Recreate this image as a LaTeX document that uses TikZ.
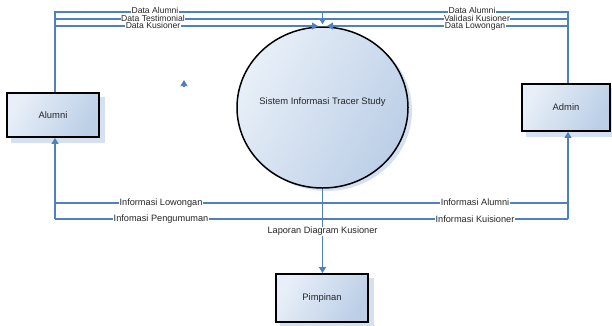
\documentclass[tikz,border=0pt]{standalone}
\usepackage{fontspec}
\setmainfont{Liberation Sans}
\usetikzlibrary{shapes.geometric,arrows.meta,backgrounds}
\definecolor{flowc}{HTML}{4F81BD}
\definecolor{lightc}{HTML}{E8EFF8}
\definecolor{darkc}{HTML}{BCCFE7}
\definecolor{shadc}{HTML}{D5E1F1}
\definecolor{txtc}{HTML}{262626}
\tikzset{
  entity/.style={rectangle, draw=black, line width=1.8pt, left color=lightc, right color=darkc, shading angle=60,
    font=\fontsize{9.4}{11}\selectfont, text=txtc},
  process/.style={ellipse, draw=black, line width=1.5pt, left color=lightc, right color=darkc, shading angle=60,
    inner sep=0pt},
  shadowfill/.style={fill=shadc},
  flow/.style={draw=flowc, line width=1.1pt},
  flowarr/.style={flow, -{Triangle[length=6pt,width=7pt]}},
  lbl/.style={fill=white, inner sep=0.4pt, text height=6.6pt, text depth=1.6pt, font=\fontsize{9.2}{10}\selectfont, text=txtc},
  toplbl/.style={lbl, font=\fontsize{8.6}{10}\selectfont, text height=6.2pt, text depth=1.5pt},
}
\begin{document}
\begin{tikzpicture}[x=1pt,y=-1pt]
\useasboundingbox (0,0) rectangle (612,325);
% nodes
\node[process, minimum width=171pt, minimum height=161pt] (sys) at (322.5,107.5) {};
\node[font=\fontsize{9.4}{11}\selectfont, text=txtc] (systxt) at (322.5,102) {Sistem Informasi Tracer Study};
\node[entity, minimum width=92pt, minimum height=44pt] (alumni) at (53,115) {Alumni};
\node[entity, minimum width=88pt, minimum height=47pt] (admin) at (566,107.5) {Admin};
\node[entity, minimum width=92pt, minimum height=48pt] (pimpinan) at (322,298) {Pimpinan};
% shadows
\begin{scope}[on background layer]
\fill[shadowfill] ([shift={(5,5)}]alumni.south west) rectangle ([shift={(5,5)}]alumni.north east);
\fill[shadowfill] ([shift={(5,5)}]admin.south west) rectangle ([shift={(5,5)}]admin.north east);
\fill[shadowfill] ([shift={(5,5)}]pimpinan.south west) rectangle ([shift={(5,5)}]pimpinan.north east);
\fill[shadowfill] ([shift={(4,3)}]sys.center) ellipse [x radius=85.5, y radius=80.5];
\end{scope}
% guide coordinates
\coordinate (L) at (55,0);
\coordinate (R) at (568,0);
\coordinate (M) at (322.5,0);
\coordinate (y1) at (0,12);
\coordinate (y2) at (0,19);
\coordinate (y3) at (0,26);
\coordinate (y4) at (0,203);
\coordinate (y5) at (0,219);
\coordinate (kl) at (318,26);
\coordinate (kr) at (327,26);
% top flows
\draw[flow] (L |- alumni.north) -- (L |- y1) -- (R |- y1) -- (R |- admin.north);
\draw[flowarr] (M |- y1) -- ([yshift=2pt]M |- sys.north);
\draw[flow] (L |- y2) -- (R |- y2);
\draw[flowarr] (L |- y3) -- (kl);
\draw[flowarr] (R |- y3) -- (kr);
\node[toplbl] (t1) at (155,11.5) {Data Alumni};
\node[toplbl] (t4) at (472,11.5) {Data Alumni};
\node[toplbl] (t2) at (153,19) {Data Testimonial};
\node[toplbl] (t5) at (477,19) {Validasi Kusioner};
\node[toplbl] (t3) at (153,26.5) {Data Kusioner};
\node[toplbl] (t6) at (475,26.5) {Data Lowongan};
% bottom flows
\draw[flow] (L |- y4) -- (R |- y4);
\draw[flow] (L |- y5) -- (R |- y5);
\draw[flowarr] (L |- y5) -- (L |- alumni.south);
\draw[flowarr] (R |- y5) -- (R |- admin.south);
\draw[flowarr] (M |- sys.south) -- (M |- pimpinan.north);
\node[lbl] (b1) at (161,203) {Informasi Lowongan};
\node[lbl] (b2) at (161,218.5) {Infomasi Pengumuman};
\node[lbl] (b3) at (475,203) {Informasi Alumni};
\node[lbl] (b4) at (475,219.5) {Informasi Kuisioner};
\node[lbl] (b5) at (322.5,231) {Laporan Diagram Kusioner};
% stray arrowhead
\coordinate (s1) at (184,87);
\coordinate (s2) at (184,80);
\draw[flowarr] (s1) -- (s2);
\end{tikzpicture}
\end{document}
